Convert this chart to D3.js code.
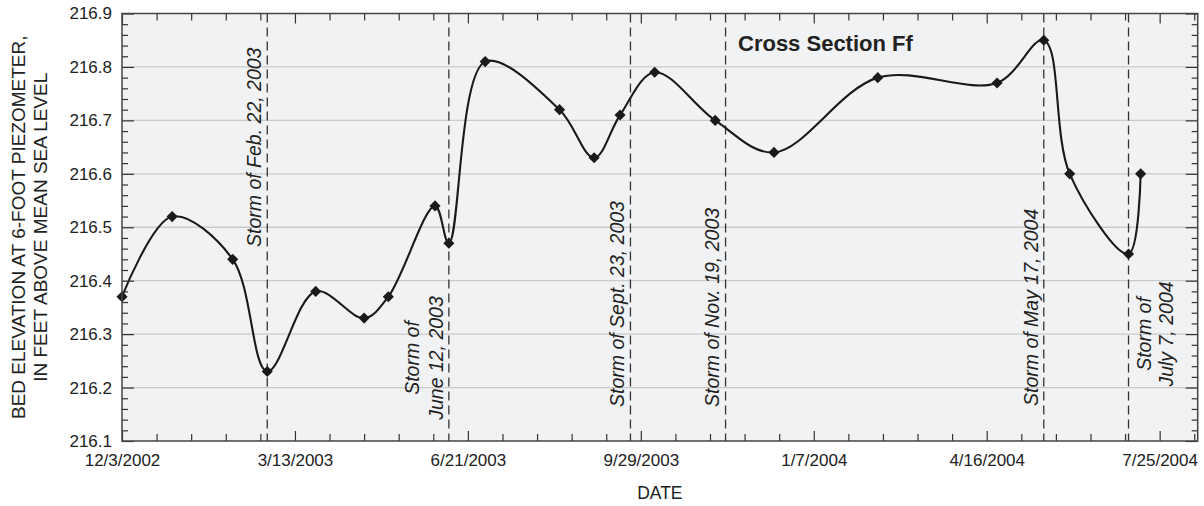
<!DOCTYPE html>
<html>
<head>
<meta charset="utf-8">
<script src="https://cdn.jsdelivr.net/npm/d3@7"></script>
<style>
  body { margin: 0; background: #fff; }
  svg { display: block; font-family: "Liberation Sans", Arial, Helvetica, sans-serif; }
</style>
</head>
<body>
<svg id="chart"></svg>
<script>
// Survey dates and bed elevation (ft above mean sea level), cross section Ff
const sampleDates = [
  "2002-12-03", "2003-01-01", "2003-02-05", "2003-02-25", "2003-03-25", "2003-04-22",
  "2003-05-06", "2003-06-02", "2003-06-10", "2003-07-01", "2003-08-13", "2003-09-02",
  "2003-09-17", "2003-10-07", "2003-11-11", "2003-12-15", "2004-02-13", "2004-04-22",
  "2004-05-19", "2004-06-03", "2004-07-07", "2004-07-14"
];
const bedElevation = [
  216.37, 216.52, 216.44, 216.23, 216.38, 216.33,
  216.37, 216.54, 216.47, 216.81, 216.72, 216.63,
  216.71, 216.79, 216.70, 216.64, 216.78, 216.77,
  216.85, 216.60, 216.45, 216.60
];

// Storm marker lines and their captions
const stormDates = ["2003-02-25", "2003-06-10", "2003-09-23", "2003-11-17", "2004-05-19", "2004-07-07"];
const stormLabels = [
  ["Storm of Feb. 22, 2003"],
  ["Storm of", "June 12, 2003"],
  ["Storm of Sept. 23, 2003"],
  ["Storm of Nov. 19, 2003"],
  ["Storm of May 17, 2004"],
  ["Storm of", "July 7, 2004"]
];

const xTickDates = ["2002-12-03", "2003-03-13", "2003-06-21", "2003-09-29", "2004-01-07", "2004-04-16", "2004-07-25"];
const yTicks = [216.1, 216.2, 216.3, 216.4, 216.5, 216.6, 216.7, 216.8, 216.9];
const xDomain = ["2002-12-03", "2004-08-16"];
const yDomain = [216.1, 216.9];

const width = 1204, height = 506;
const margin = { top: 13.5, right: 6.3, bottom: 65, left: 122 };

const parse = d3.timeParse("%Y-%m-%d");
const fmt = d3.timeFormat("%-m/%-d/%Y");

const svg = d3.select("#chart").attr("width", width).attr("height", height);

const x = d3.scaleTime()
  .domain(xDomain.map(parse))
  .range([margin.left, width - margin.right]);

const y = d3.scaleLinear()
  .domain(yDomain)
  .range([height - margin.bottom, margin.top]);

const x0 = margin.left, x1 = width - margin.right;
const y0 = height - margin.bottom, y1 = margin.top;

// plot background
svg.append("rect")
  .attr("x", x0).attr("y", y1)
  .attr("width", x1 - x0).attr("height", y0 - y1)
  .attr("fill", "#f1f2f4");

// horizontal grid
svg.append("g")
  .selectAll("line")
  .data(yTicks.slice(1, -1))
  .join("line")
  .attr("x1", x0).attr("x2", x1)
  .attr("y1", d => y(d)).attr("y2", d => y(d))
  .attr("stroke", "#c9cacc")
  .attr("stroke-width", 1.3);

// storm lines
const storms = stormDates.map((d, i) => ({ date: parse(d), lines: stormLabels[i] }));
svg.append("g")
  .selectAll("line")
  .data(storms)
  .join("line")
  .attr("x1", d => x(d.date)).attr("x2", d => x(d.date))
  .attr("y1", y1).attr("y2", y0)
  .attr("stroke", "#333")
  .attr("stroke-width", 1.3)
  .attr("stroke-dasharray", "9,5");

// storm captions (offsets from the line, rotated)
const labelLayout = [
  { dx: [-6], yPos: 247, anchor: "start" },
  { dx: [-30, -6], yPos: 358, anchor: "middle" },
  { dx: [-6], yPos: 407, anchor: "start" },
  { dx: [-7], yPos: 407, anchor: "start" },
  { dx: [-6], yPos: 406, anchor: "start" },
  { dx: [22, 44], yPos: 334, anchor: "middle" }
];
storms.forEach((s, i) => {
  const lay = labelLayout[i];
  s.lines.forEach((t, j) => {
    svg.append("text")
      .attr("transform", `translate(${x(s.date) + lay.dx[j]},${lay.yPos}) rotate(-90)`)
      .attr("text-anchor", lay.anchor)
      .attr("font-size", 19.5)
      .attr("font-style", "italic")
      .attr("fill", "#222")
      .text(t);
  });
});

// data curve
const points = sampleDates.map((d, i) => ({ date: parse(d), value: bedElevation[i] }));
const line = d3.line()
  .x(d => x(d.date))
  .y(d => y(d.value))
  .curve(d3.curveCatmullRom.alpha(0.5));

svg.append("path")
  .datum(points)
  .attr("d", line)
  .attr("fill", "none")
  .attr("stroke", "#1a1a1a")
  .attr("stroke-width", 2.1);

svg.append("g")
  .selectAll("path")
  .data(points)
  .join("path")
  .attr("d", d3.symbol(d3.symbolSquare, 62))
  .attr("transform", d => `translate(${x(d.date)},${y(d.value)}) rotate(45)`)
  .attr("fill", "#1a1a1a");

// ticks (inward on all four sides)
const start = parse(xDomain[0]), end = parse(xDomain[1]);
const majorX = xTickDates.map(parse);
const minorX = d3.timeDay.range(start, end, 20).filter(d => !majorX.some(m => +m === +d));
const minorY = d3.range(0, 41).map(i => +(yDomain[0] + i * 0.02).toFixed(2)).filter(v => !yTicks.includes(v));

function tickAxis(axisFn, scale, values, size, transform) {
  const g = svg.append("g")
    .attr("transform", transform)
    .call(axisFn(scale).tickValues(values).tickSize(-size).tickFormat(""));
  g.select(".domain").remove();
  g.selectAll(".tick line").attr("stroke", "#333").attr("stroke-width", 1.2);
}
tickAxis(d3.axisBottom, x, majorX, 10, `translate(0,${y0})`);
tickAxis(d3.axisBottom, x, minorX, 7, `translate(0,${y0})`);
tickAxis(d3.axisTop, x, majorX, 10, `translate(0,${y1})`);
tickAxis(d3.axisTop, x, minorX, 7, `translate(0,${y1})`);
tickAxis(d3.axisLeft, y, yTicks, 12, `translate(${x0},0)`);
tickAxis(d3.axisLeft, y, minorY, 6, `translate(${x0},0)`);
tickAxis(d3.axisRight, y, yTicks, 12, `translate(${x1},0)`);
tickAxis(d3.axisRight, y, minorY, 6, `translate(${x1},0)`);

// frame
svg.append("rect")
  .attr("x", x0).attr("y", y1)
  .attr("width", x1 - x0).attr("height", y0 - y1)
  .attr("fill", "none")
  .attr("stroke", "#444")
  .attr("stroke-width", 1.5);

// tick labels
const xLabels = svg.append("g")
  .attr("transform", `translate(0,${y0})`)
  .call(d3.axisBottom(x).tickValues(majorX).tickSize(0).tickPadding(13).tickFormat(fmt));
xLabels.select(".domain").remove();
xLabels.selectAll("text")
  .attr("font-family", "Liberation Sans, Arial, sans-serif")
  .attr("font-size", 17)
  .attr("fill", "#222");

const yLabels = svg.append("g")
  .attr("transform", `translate(${x0},0)`)
  .call(d3.axisLeft(y).tickValues(yTicks).tickSize(0).tickPadding(10).tickFormat(d3.format(".1f")));
yLabels.select(".domain").remove();
yLabels.selectAll("text")
  .attr("font-family", "Liberation Sans, Arial, sans-serif")
  .attr("font-size", 17)
  .attr("fill", "#222");

// axis titles
svg.append("text")
  .attr("x", (x0 + x1) / 2).attr("y", 499)
  .attr("text-anchor", "middle")
  .attr("font-size", 17.5)
  .attr("fill", "#222")
  .text("DATE");

const yTitle = ["BED ELEVATION AT 6-FOOT PIEZOMETER,", "IN FEET ABOVE MEAN SEA LEVEL"];
yTitle.forEach((t, i) => {
  svg.append("text")
    .attr("transform", `translate(${25 + i * 22},${(y0 + y1) / 2}) rotate(-90)`)
    .attr("text-anchor", "middle")
    .attr("font-size", 19)
    .attr("fill", "#222")
    .text(t);
});

// chart title
svg.append("text")
  .attr("x", 738).attr("y", 51)
  .attr("font-size", 22)
  .attr("font-weight", "bold")
  .attr("fill", "#222")
  .text("Cross Section Ff");
</script>
</body>
</html>
